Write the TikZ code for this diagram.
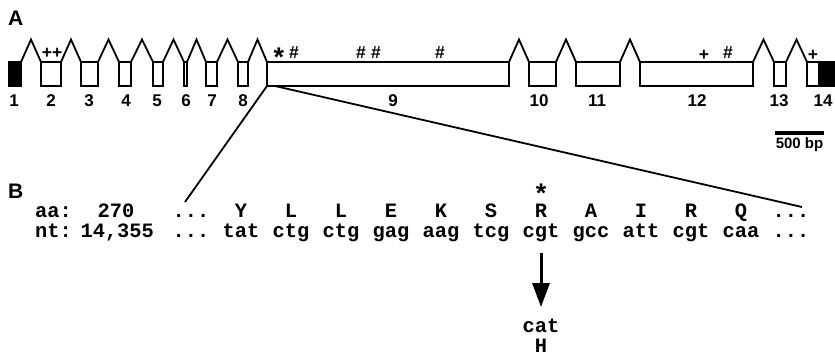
\documentclass[tikz,border=0pt]{standalone}
\usepackage{fontspec}
\setmainfont{Liberation Sans}
\setmonofont{Liberation Mono}
\usetikzlibrary{calc,arrows.meta}
\newcommand\seqdots{...}

\begin{document}
\begin{tikzpicture}[x=1pt,y=-1pt,
  exon/.style={draw,line width=1.8pt,minimum height=24pt,inner sep=0pt,outer sep=0pt,anchor=north west},
  intron/.style={line width=1.8pt,line join=miter},
  zoomline/.style={line width=1.8pt},
  exnum/.style={font=\fontsize{17}{17}\selectfont\bfseries,inner sep=0pt,anchor=base},
  sitemark/.style={font=\fontsize{17.5}{17.5}\selectfont\bfseries,inner sep=0pt,anchor=base},
  starmark/.style={font=\fontsize{27}{27}\selectfont\bfseries,inner sep=0pt,anchor=base,text depth=-0.35em},
  seq/.style={font=\fontsize{20.4}{21}\selectfont\ttfamily\bfseries,inner sep=0pt,anchor=base},
  panel/.style={font=\fontsize{21}{21}\selectfont\bfseries,inner sep=0pt,anchor=base west},
]
\fill[white] (0,0) rectangle (835,356);
\useasboundingbox (0,0) rectangle (835,356);

% panel letters
\node[panel] (pA) at (8,25) {A};
\node[panel] (pB) at (8,198) {B};

% exons (left edge, width)
\node[exon,minimum width=12pt,fill=black] (e1) at (9,62) {};
\node[exon,minimum width=20pt] (e2) at (41,62) {};
\node[exon,minimum width=17pt] (e3) at (81,62) {};
\node[exon,minimum width=12pt] (e4) at (119,62) {};
\node[exon,minimum width=10pt] (e5) at (153,62) {};
\node[exon,minimum width=3pt] (e6) at (184,62) {};
\node[exon,minimum width=11pt] (e7) at (206,62) {};
\node[exon,minimum width=10pt] (e8) at (238,62) {};
\node[exon,minimum width=242pt] (e9) at (267,62) {};
\node[exon,minimum width=27pt] (e10) at (529,62) {};
\node[exon,minimum width=44pt] (e11) at (576,62) {};
\node[exon,minimum width=113pt] (e12) at (640,62) {};
\node[exon,minimum width=12pt] (e13) at (774,62) {};
\node[exon,minimum width=12pt] (e14) at (807,62) {};
\node[exon,minimum width=15pt,fill=black] (e14b) at (819,62) {};

% introns
\foreach \a/\b in {e1/e2,e2/e3,e3/e4,e4/e5,e5/e6,e6/e7,e7/e8,e8/e9,e9/e10,e10/e11,e11/e12,e12/e13,e13/e14}
  \draw[intron] (\a.north east) -- ($(\a.north east)!.5!(\b.north west)+(0,-22.5)$) -- (\b.north west);

% exon numbers
\foreach \n/\x in {1/14,2/51,3/89,4/126,5/157,6/186,7/212,8/243,9/393,10/539,11/597,12/697,13/779,14/823}
  \node[exnum] (n\n) at (\x,106) {\n};

% sites marked above the exons
\node[sitemark] (m2) at (52,58) {++};
\node[starmark] (m9a) at (279,66) {*};
\node[sitemark] (m9b) at (294,58) {\#};
\node[sitemark] (m9c) at (361,58) {\#};
\node[sitemark] (m9d) at (376,58) {\#};
\node[sitemark] (m9e) at (440,58) {\#};
\node[sitemark] (m12a) at (704,60) {+};
\node[sitemark] (m12b) at (728,58) {\#};
\node[sitemark] (m14) at (813,60) {+};

% scale bar
\coordinate (sbL) at (775,132.5);
\coordinate (sbR) at (824,132.5);
\draw[line width=4pt] (sbL) -- (sbR);
\node[font=\fontsize{15}{15}\selectfont\bfseries,inner sep=0pt,anchor=base] (sbtxt) at (799.5,148) {500 bp};

% sequence rows
\foreach \t/\c [count=\i] in {aa:/1,270/6,\seqdots/12,Y/16,L/20,L/24,E/28,K/32,S/36,R/40,A/44,I/48,R/52,Q/56,\seqdots/60}
  \node[seq] (aa\i) at ({41+12.5*\c},217) {\t};
\foreach \t/\c [count=\i] in {nt:/1,{14,355}/6.1,\seqdots/12,tat/16,ctg/20,ctg/24,gag/28,aag/32,tcg/36,cgt/40,gcc/44,att/48,cgt/52,caa/56,\seqdots/60}
  \node[seq] (nt\i) at ({41+12.5*\c},237) {\t};

\node[starmark] (mut) at (541,202) {*};

% zoom from exon 9 to the sequence
\coordinate (zA) at (185,202);
\coordinate (zB) at (802,207);
\draw[zoomline] (e9.south west) -- (zA);
\draw[zoomline] ($(e9.south west)+(8,0)$) -- (zB);

% mutation
\node[seq] (cat) at (541,332) {cat};
\node[seq] (his) at (541,352) {H};
\draw[line width=3pt,-{Triangle[width=17pt,length=24pt]}] ($(nt10.base)+(0,16)$) -- ($(cat.base)+(0,-25)$);
\end{tikzpicture}
\end{document}
